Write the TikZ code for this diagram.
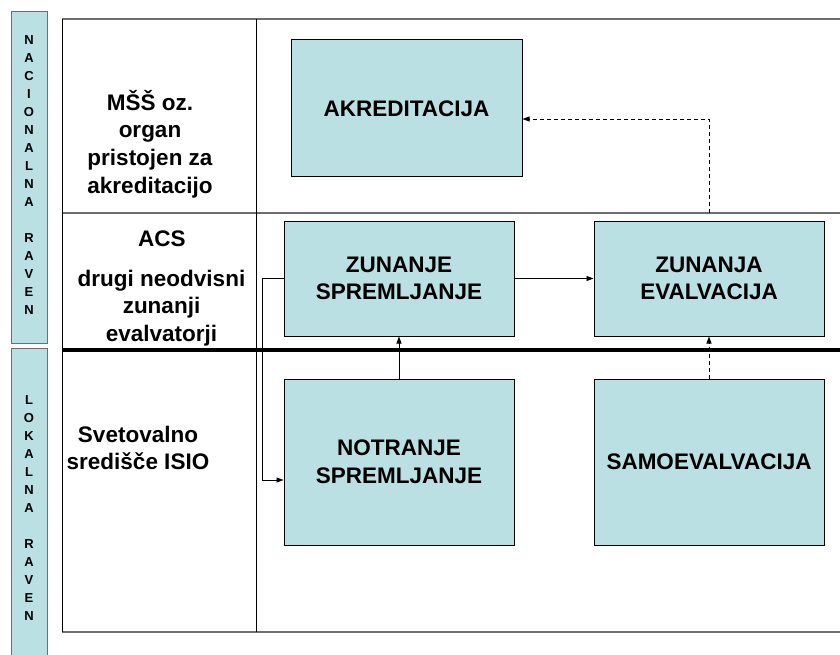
\documentclass[tikz,border=0pt]{standalone}
\usepackage{fontspec}
\setmainfont{Liberation Sans}
\usetikzlibrary{arrows.meta}
\definecolor{boxfill}{RGB}{187,224,227}
\definecolor{framegray}{RGB}{110,110,110}
\newcommand{\lblfont}{\fontsize{22.5}{27.7}\selectfont\bfseries}
\newcommand{\barfont}{\fontsize{13}{18}\selectfont\bfseries}

\begin{document}
\begin{tikzpicture}[x=1pt,y=-1pt]

    \tikzset{
      stage/.style={
        draw=black,
        fill=boxfill,
        line width=1pt,
        minimum width=230pt,
        inner sep=0pt,
        align=center,
        font=\lblfont,
      },
      bar/.style={
        draw=framegray,
        fill=boxfill,
        line width=1pt,
        minimum width=36pt,
        inner sep=0pt,
      },
      barlabel/.style={align=center, inner sep=0pt, font=\barfont},
      rowlabel/.style={align=center, inner sep=0pt, font=\lblfont},
      conn/.style={line width=0.8pt, -{Triangle[length=7pt,width=5pt]}},
      dconn/.style={conn, dash pattern=on 4pt off 3pt},
    }
    \useasboundingbox (0,0) rectangle (840,655);

    % frame of the table
    \draw[framegray,line width=1.5pt] (62,19)--(840,19);
    \draw[framegray,line width=1.5pt] (62,213)--(840,213);
    \draw[framegray,line width=1.5pt] (62,632)--(840,632);
    \draw[black,line width=1pt] (62,19)--(62,632);
    \draw[black,line width=1pt] (256,19)--(256,632);
    \draw[black,line width=4pt] (62,350)--(840,350);

    % side bars
    \node[bar,minimum height=331pt] (nacbar) at (29,177.5) {};
    \node[bar,minimum height=310pt] (lokbar) at (29,503) {};
    \node[barlabel] (nactxt) at (29,175.5) {N\\A\\C\\I\\O\\N\\A\\L\\N\\A\\[18pt]R\\A\\V\\E\\N};
    \node[barlabel] (loktxt) at (29,508) {L\\O\\K\\A\\L\\N\\A\\[18pt]R\\A\\V\\E\\N};

    % row labels
    \node[rowlabel] (mss) at (150,144) {MŠŠ oz.\\organ\\pristojen za\\akreditacijo};
    \node[rowlabel] (acs) at (162,239) {ACS};
    \node[rowlabel] (neodv) at (161.5,308) {drugi neodvisni\\zunanji\\evalvatorji};
    \node[rowlabel] (isio) at (138,448) {Svetovalno\\središče ISIO};

    % stages
    \node[stage,minimum width=231pt,minimum height=137pt] (akr) at (406.5,108.5) {AKREDITACIJA};
    \node[stage,minimum height=115pt] (zs) at (399,278.5) {ZUNANJE\\SPREMLJANJE};
    \node[stage,minimum height=115pt] (ze) at (709,278.5) {ZUNANJA\\EVALVACIJA};
    \node[stage,minimum height=166pt] (ns) at (399,462) {NOTRANJE\\SPREMLJANJE};
    \node[stage,minimum height=166pt] (samo) at (709,462) {SAMOEVALVACIJA};

    \coordinate (tap) at (709,213);
    \coordinate (akrin) at (akr.east |- 0,119);
    \coordinate (nsin) at (ns.west |- 0,480);

    % connectors
    \draw[conn] (zs) -- (ze);
    \draw[conn] (ns) -- (zs);
    \draw[dconn] (samo) -- (ze);
    \draw[dconn] (tap) |- (akrin);
    \draw[conn] (zs.west) -- ++(-21,0) |- (nsin);

\end{tikzpicture}
\end{document}
